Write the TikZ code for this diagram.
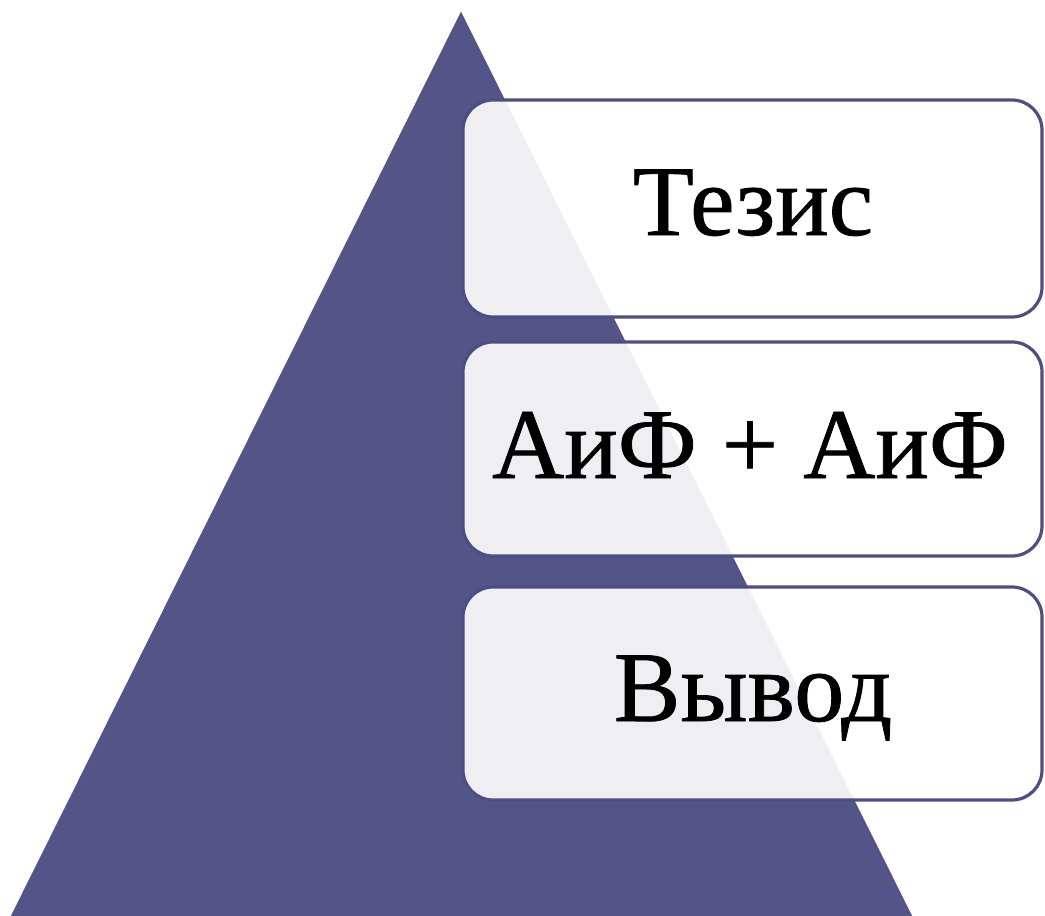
\documentclass[tikz,border=0pt]{standalone}
\usepackage{fontspec}
\setmainfont{Liberation Serif}
\newfontfamily\heavyserif[FakeBold=0.8]{Liberation Serif}
\definecolor{tri}{HTML}{545488}
\definecolor{edge}{HTML}{4E4E80}
\begin{document}
\begin{tikzpicture}[x=1pt,y=-1pt,
  stagebox/.style={draw=edge,line width=3.2pt,fill=white,fill opacity=0.9,draw opacity=1,rounded corners=30pt},
  label/.style={anchor=base,font=\heavyserif\fontsize{100}{120}\selectfont,text=black,inner sep=0pt}]
\useasboundingbox (0,0) rectangle (1045,916);
\coordinate (apex) at (461,10);
\coordinate (bl) at (10,916);
\coordinate (br) at (913,916);
\fill[tri] (apex) -- (br) -- (bl) -- cycle;
\draw[white,line width=1.2pt] (bl) -- (apex) -- (br);
\draw[stagebox] (463,100) rectangle (1042,317);
\draw[stagebox] (463,342) rectangle (1042,556);
\draw[stagebox] (463,587) rectangle (1042,800);
\node[label] (t1) at (753,235) {Тезис};
\node[label] (t2) at (750,478) {АиФ + АиФ};
\node[label] (t3) at (753,721) {Вывод};
\end{tikzpicture}
\end{document}
